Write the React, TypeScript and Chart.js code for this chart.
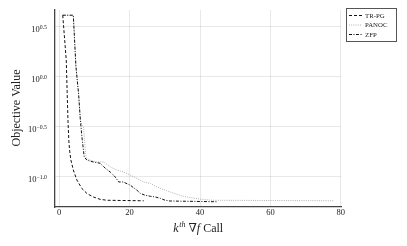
import { useEffect, useRef } from "react";
import { Chart, registerables } from "chart.js";

Chart.register(...registerables);

const seriesNames = ["TR-PG", "PANOC", "ZFP"];

const trpgCalls = [1, 2, 2.25, 2.5, 2.75, 3, 3.3, 4, 5, 6.45, 7.9, 9.7, 11.6, 13.5, 24];
const trpgValues = [4.12, 1.469, 0.708, 0.355, 0.224, 0.178, 0.148, 0.1175, 0.0933, 0.0766, 0.0682, 0.0631, 0.0598, 0.0585, 0.0578];

const panocCalls = [1, 4, 4.75, 5.5, 6, 6.45, 6.9, 7.4, 7.7, 8.8, 10.7, 12.6, 14.5, 16.4, 18.3, 20.2, 22.1, 23.9, 25.9, 27.8, 29.6, 31.5, 33.4, 35.3, 37.2, 39.1, 41, 43.8, 78];
const panocValues = [4.12, 4.12, 1.259, 0.676, 0.372, 0.329, 0.316, 0.185, 0.154, 0.147, 0.141, 0.141, 0.126, 0.1167, 0.1122, 0.104, 0.0964, 0.0891, 0.0859, 0.0794, 0.0748, 0.0708, 0.0671, 0.0641, 0.0622, 0.0608, 0.0594, 0.0585, 0.0578];

const zfpCalls = [1, 4, 4.75, 5.5, 6, 6.45, 7.1, 7.9, 9.7, 11.6, 13.1, 14.5, 15.9, 16.9, 18.2, 20.2, 22.1, 23, 24.4, 25.9, 27.3, 28.7, 30.1, 31.5, 45];
const zfpValues = [4.12, 4.12, 1.259, 0.676, 0.372, 0.251, 0.158, 0.147, 0.141, 0.137, 0.122, 0.112, 0.1, 0.0891, 0.0891, 0.0826, 0.0736, 0.0687, 0.0656, 0.0641, 0.0631, 0.0612, 0.0585, 0.0575, 0.0565];

const xTicks = [0, 20, 40, 60, 80];
const yTickValues = [3.16228, 1, 0.316228, 0.1];
const yTickExponents = ["0.5", "0.0", "\u22120.5", "\u22121.0"];

const SERIF = '"Liberation Serif", "DejaVu Serif", serif';

function pts(xs: number[], ys: number[]) {
  return xs.map((x, i) => ({ x, y: ys[i] }));
}

const lineStyles = [
  { color: "#111", dash: [3, 2] },
  { color: "#b0b0b0", dash: [1, 1.2] },
  { color: "#111", dash: [3, 1.5, 1, 1.5] },
];

const labelsPlugin = {
  id: "customLabels",
  afterDraw(chart: any) {
    const ctx = chart.ctx as CanvasRenderingContext2D;
    const xs = chart.scales.x;
    const ys = chart.scales.y;
    ctx.save();
    ctx.fillStyle = "#222";

    // x tick labels
    ctx.font = `8.5px ${SERIF}`;
    ctx.textAlign = "center";
    ctx.textBaseline = "alphabetic";
    xTicks.forEach((t) => ctx.fillText(String(t), xs.getPixelForValue(t), 215));

    // y tick labels (10^exp)
    const right = 47;
    yTickValues.forEach((v, i) => {
      const py = ys.getPixelForValue(v);
      ctx.textAlign = "left";
      ctx.font = `5.8px ${SERIF}`;
      const ew = ctx.measureText(yTickExponents[i]).width;
      ctx.fillText(yTickExponents[i], right - ew, py + 2.2);
      ctx.font = `8.5px ${SERIF}`;
      const bw = ctx.measureText("10").width;
      ctx.fillText("10", right - ew - bw, py + 5);
    });

    // y axis title
    ctx.save();
    ctx.translate(17, 108);
    ctx.rotate(-Math.PI / 2);
    ctx.font = `12px ${SERIF}`;
    ctx.textAlign = "center";
    ctx.textBaseline = "middle";
    ctx.fillStyle = "#222";
    ctx.fillText("Objective Value", 0, 0);
    ctx.restore();

    // x axis title: k^th ∇f Call
    const parts = [
      { t: "k", f: `italic 12px ${SERIF}`, dy: 0 },
      { t: "th", f: `italic 8px ${SERIF}`, dy: -5 },
      { t: " \u2207", f: `12px ${SERIF}`, dy: 0 },
      { t: "f", f: `italic 12px ${SERIF}`, dy: 0 },
      { t: " Call", f: `12px ${SERIF}`, dy: 0 },
    ];
    let total = 0;
    const widths = parts.map((p) => {
      ctx.font = p.f;
      const w = ctx.measureText(p.t).width;
      total += w;
      return w;
    });
    let cx = (chart.chartArea.left + chart.chartArea.right) / 2 - total / 2;
    ctx.textAlign = "left";
    ctx.fillStyle = "#222";
    parts.forEach((p, i) => {
      ctx.font = p.f;
      ctx.fillText(p.t, cx, 232 + p.dy);
      cx += widths[i] + (i === 0 ? 0.5 : 0);
    });

    // legend
    const bx = 346.5, by = 8.5, bw = 50, bh = 33;
    ctx.fillStyle = "#fff";
    ctx.fillRect(bx, by, bw, bh);
    ctx.strokeStyle = "#555";
    ctx.lineWidth = 1;
    ctx.setLineDash([]);
    ctx.strokeRect(bx, by, bw, bh);
    ctx.font = `6.8px ${SERIF}`;
    ctx.textBaseline = "middle";
    seriesNames.forEach((name, i) => {
      const y = 15.5 + i * 9.5;
      ctx.strokeStyle = lineStyles[i].color;
      ctx.setLineDash(lineStyles[i].dash);
      ctx.beginPath();
      ctx.moveTo(349, y);
      ctx.lineTo(362, y);
      ctx.stroke();
      ctx.fillStyle = "#222";
      ctx.fillText(name, 365, y + 0.5);
    });
    ctx.restore();
  },
};

export default function App() {
  const ref = useRef<HTMLCanvasElement | null>(null);
  useEffect(() => {
    if (!ref.current) return;
    const data = [
      pts(trpgCalls, trpgValues),
      pts(panocCalls, panocValues),
      pts(zfpCalls, zfpValues),
    ];
    const orders = [1, 2, 0];
    const chart = new Chart(ref.current, {
      type: "line",
      data: {
        datasets: seriesNames.map((name, i) => ({
          label: name,
          data: data[i],
          borderColor: lineStyles[i].color,
          borderDash: lineStyles[i].dash,
          borderWidth: 1,
          pointRadius: 0,
          fill: false,
          tension: 0,
          order: orders[i],
        })),
      },
      options: {
        animation: false,
        responsive: false,
        parsing: true,
        layout: { padding: { left: 0, top: 10, right: 66, bottom: 0 } },
        plugins: { legend: { display: false }, tooltip: { enabled: false } },
        scales: {
          x: {
            type: "linear",
            min: -1.2,
            max: 80.05,
            ticks: { display: false },
            afterBuildTicks: (s: any) => {
              s.ticks = xTicks.map((v) => ({ value: v }));
            },
            afterFit: (s: any) => {
              s.height = 39;
            },
            grid: { color: "rgba(0,0,0,0.09)", lineWidth: 1, drawTicks: false },
            border: { color: "#444", width: 1.3 },
          },
          y: {
            type: "logarithmic",
            min: 0.0501,
            max: 4.645,
            ticks: { display: false },
            afterBuildTicks: (s: any) => {
              s.ticks = yTickValues.map((v) => ({ value: v }));
            },
            afterFit: (s: any) => {
              s.width = 55;
            },
            grid: { color: "rgba(0,0,0,0.09)", lineWidth: 1, drawTicks: false },
            border: { color: "#444", width: 1.3 },
          },
        },
      },
      plugins: [labelsPlugin],
    } as any);
    return () => chart.destroy();
  }, []);
  return (
    <div style={{ position: "absolute", left: 0, top: 0, width: 407, height: 246, background: "#fff" }}>
      <canvas ref={ref} width={407} height={246} style={{ width: 407, height: 246 }} />
    </div>
  );
}
